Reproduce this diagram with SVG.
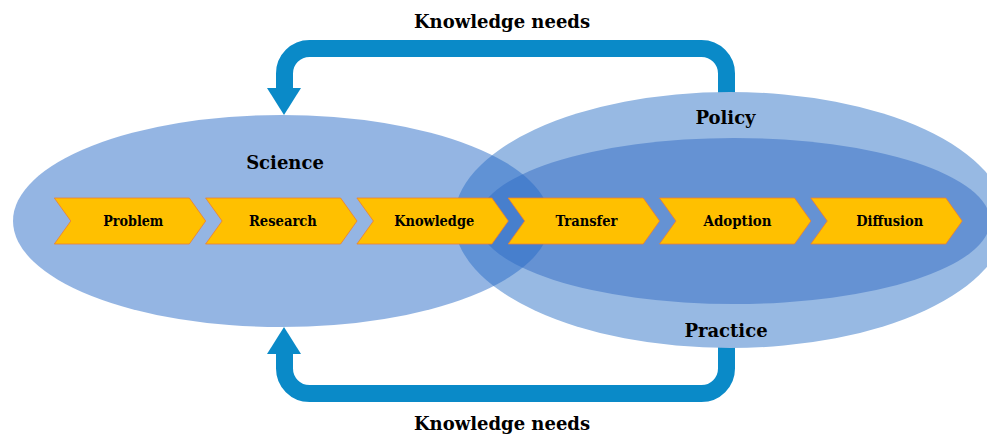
<svg xmlns="http://www.w3.org/2000/svg" width="987" height="434" viewBox="0 0 987 434">
  <style>
    .arrow { fill: none; stroke: #0A8AC8; stroke-width: 17; }
    .head { fill: #0A8AC8; }
    .chev { fill: #FFC000; stroke: #ED7D31; stroke-width: 0.8; }
    .lbl { font-family: "DejaVu Serif", "Liberation Serif", serif; font-weight: bold; fill: #000; text-anchor: middle; }
    .big { font-size: 18px; }
    .small { font-size: 15px; }
  </style>
  <defs>
    <polygon id="chevShape" points="0,198 135,198 151.4,221 135,244 0,244 16.5,221"/>
  </defs>
  <rect width="987" height="434" fill="#FFFFFF"/>

  <g id="connectors">
    <path class="arrow" d="M726.5 96 V73.5 A25 25 0 0 0 701.5 48.5 H309.5 A25 25 0 0 0 284.5 73.5 V89"/>
    <polygon class="head" points="267,88 301,88 284,115"/>
    <path class="arrow" d="M726.5 346 V368.5 A25 25 0 0 1 701.5 393.5 H309.5 A25 25 0 0 1 284.5 368.5 V353"/>
    <polygon class="head" points="267,354 301,354 284,327"/>
  </g>

  <g id="policy-practice">
    <ellipse cx="730" cy="220" rx="276" ry="128" fill="#97B9E3"/>
    <ellipse cx="734" cy="221" rx="256" ry="83" fill="#6592D3"/>
  </g>
  <g id="science">
    <ellipse cx="281.5" cy="221" rx="268.5" ry="106" fill="#2A6CC8" fill-opacity="0.5"/>
  </g>

  <text class="lbl big" x="502" y="28">Knowledge needs</text>
  <text class="lbl big" x="502" y="430">Knowledge needs</text>
  <text class="lbl big" x="285" y="169">Science</text>
  <text class="lbl big" x="725.5" y="124">Policy</text>
  <text class="lbl big" x="726" y="336.5">Practice</text>

  <g id="problem" transform="translate(54.3 0)">
    <use href="#chevShape" class="chev"/>
    <text class="lbl small" x="79" y="226" textLength="60" lengthAdjust="spacingAndGlyphs">Problem</text>
  </g>
  <g id="research" transform="translate(205.6 0)">
    <use href="#chevShape" class="chev"/>
    <text class="lbl small" x="77.3" y="226" textLength="68" lengthAdjust="spacingAndGlyphs">Research</text>
  </g>
  <g id="knowledge" transform="translate(356.9 0)">
    <use href="#chevShape" class="chev"/>
    <text class="lbl small" x="77.3" y="226" textLength="80" lengthAdjust="spacingAndGlyphs">Knowledge</text>
  </g>
  <g id="transfer" transform="translate(508.2 0)">
    <use href="#chevShape" class="chev"/>
    <text class="lbl small" x="78.3" y="226" textLength="62" lengthAdjust="spacingAndGlyphs">Transfer</text>
  </g>
  <g id="adoption" transform="translate(659.5 0)">
    <use href="#chevShape" class="chev"/>
    <text class="lbl small" x="78" y="226" textLength="68" lengthAdjust="spacingAndGlyphs">Adoption</text>
  </g>
  <g id="diffusion" transform="translate(810.8 0)">
    <use href="#chevShape" class="chev"/>
    <text class="lbl small" x="78.9" y="226" textLength="67" lengthAdjust="spacingAndGlyphs">Diffusion</text>
  </g>
</svg>
